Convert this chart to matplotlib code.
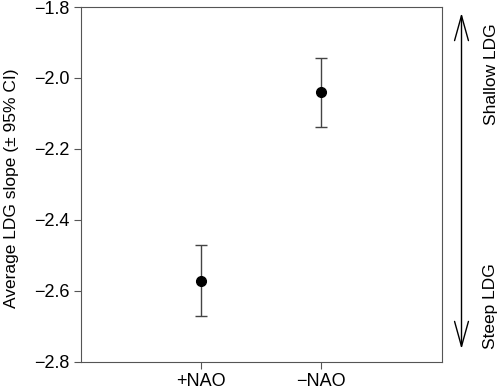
import matplotlib
matplotlib.use("Agg")
import matplotlib.pyplot as plt

plt.rcParams['font.family'] = ['Liberation Sans', 'DejaVu Sans']

# data
groups = ["+NAO", "\u2212NAO"]
slopes = [-2.571, -2.039]
ci_low = [-2.671, -2.137]
ci_high = [-2.471, -1.945]

yerr = [[s - lo for s, lo in zip(slopes, ci_low)],
        [hi - s for s, hi in zip(slopes, ci_high)]]
xpos = [1, 2]

fig = plt.figure(figsize=(5, 3.9), dpi=100)
ax = fig.add_axes([0.162, 0.072, 0.721, 0.910])

ax.errorbar(xpos, slopes, yerr=yerr, fmt='none', ecolor='#444444',
            elinewidth=1.0, capsize=4.5, capthick=1.0)
ax.plot(xpos, slopes, 'o', color='black', markersize=7)

ax.set_xlim(0, 3)
ax.set_ylim(-2.8, -1.8)
ax.set_xticks(xpos)
ax.set_xticklabels(groups)
ax.set_yticks([-2.8, -2.6, -2.4, -2.2, -2.0, -1.8])
ax.set_yticklabels(["\u22122.8", "\u22122.6", "\u22122.4", "\u22122.2", "\u22122.0", "\u22121.8"])
ax.tick_params(axis='both', labelsize=13, color='#555555', length=5, width=0.8, pad=3)
for sp in ax.spines.values():
    sp.set_color('#555555')
    sp.set_linewidth(0.8)

ax.set_ylabel("Average LDG slope (\u00b1 95% CI)", fontsize=12.5)
ax.yaxis.set_label_coords(-0.172, 0.49)

# double arrow on the right, outside the axes
ax.annotate("", xy=(0.923, 1 - 13 / 390), xytext=(0.923, 1 - 349 / 390),
            xycoords='figure fraction', textcoords='figure fraction',
            arrowprops=dict(arrowstyle='<->,head_length=1.8,head_width=0.5',
                            color='black', lw=1.0, shrinkA=0, shrinkB=0))
fig.text(0.982, 1 - 74 / 390, "Shallow LDG", rotation=90, ha='center', va='center',
         fontsize=12.5)
fig.text(0.982, 1 - 306 / 390, "Steep LDG", rotation=90, ha='center', va='center',
         fontsize=12.5)

plt.savefig("out.png", dpi=100)
